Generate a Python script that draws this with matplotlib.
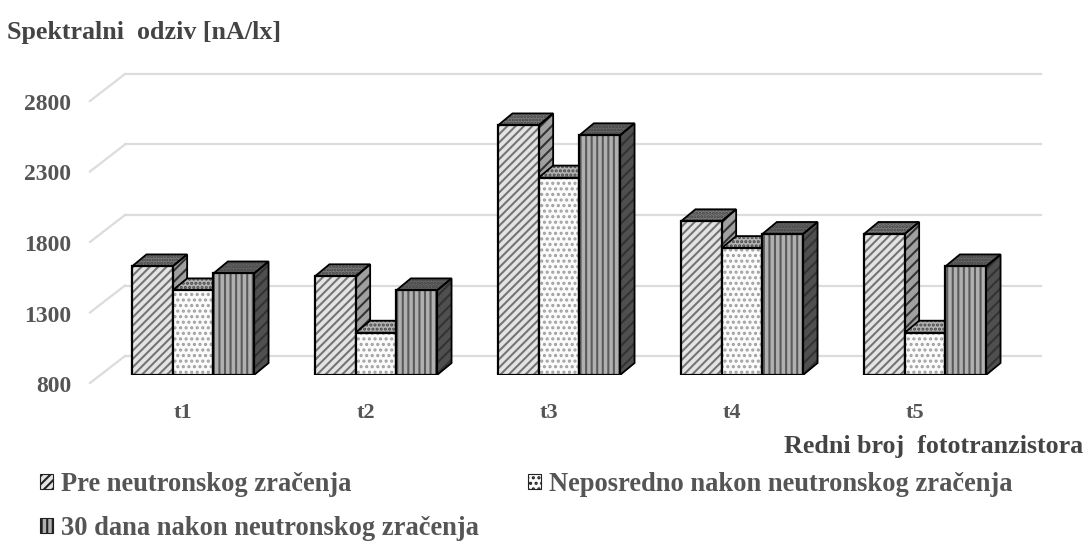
import matplotlib
matplotlib.use("Agg")
import matplotlib.pyplot as plt
from matplotlib.patches import Polygon, Patch
from matplotlib.transforms import blended_transform_factory

plt.rcParams['font.family'] = ['Liberation Serif', 'DejaVu Serif']
plt.rcParams['hatch.linewidth'] = 1.5

# podaci
categories = ["t1", "t2", "t3", "t4", "t5"]
series_names = ["Pre neutronskog zračenja",
                "Neposredno nakon neutronskog zračenja",
                "30 dana nakon neutronskog zračenja"]
pre = [1570, 1500, 2570, 1890, 1800]
neposredno = [1400, 1100, 2200, 1700, 1100]
posle_30 = [1520, 1400, 2500, 1800, 1570]
y_ticks = [800, 1300, 1800, 2300, 2800]

W, H = 1087, 541
fig = plt.figure(figsize=(W / 100, H / 100), dpi=100)

# osa: 800 je na y=375px, a 2800 na y=93px; t1 je na x=193px, korak 183px
left, right, top, bottom = 100, 1045, 60, 375
ax = fig.add_axes([left / W, 1 - bottom / H, (right - left) / W, (bottom - top) / H])
px_x = 183.0
px_y = 70.5 / 500
ax.set_xlim((left - 193) / px_x, (right - 193) / px_x)
ax.set_ylim(800, 800 + (bottom - top) / px_y)
ax.axis("off")

bar_w = 40.7 / px_x
# 3D pomak
dx = 14.5 / px_x
dy = 12 / px_y
wall_dy = 19 / px_y
x_wall = (125 - 193) / px_x
x_floor = (90 - 193) / px_x
x_max = (1041 - 193) / px_x

grid_c = "#dcdcdc"
for t in y_ticks:
    back = t + wall_dy
    ax.plot([x_wall, x_max], [back, back], color=grid_c, lw=1.6, zorder=1, clip_on=False)
    ax.plot([x_floor, x_wall], [back - 27 / px_y, back], color=grid_c, lw=1.6, zorder=1, clip_on=False)

styles = [
    {"face": "#e4e4e4", "hatch": "////", "hc": "#757575",
     "side": "#a0a0a0", "side_hatch": "///", "top": "#7c7c7c", "top_hatch": "....."},
    {"face": "#fbfbfb", "hatch": "...", "hc": "#a0a0a0",
     "side": "#cfcfcf", "side_hatch": "...", "top": "#b4b4b4", "top_hatch": "...."},
    {"face": "#b0b0b0", "hatch": "|||", "hc": "#5a5a5a",
     "side": "#4f4f4f", "side_hatch": "///", "top": "#666666", "top_hatch": "....."},
]
all_values = [pre, neposredno, posle_30]

z = 3
for i in range(len(categories)):
    for j in range(3):
        v = all_values[j][i]
        st = styles[j]
        x0 = i - 1.5 * bar_w + j * bar_w
        x1 = x0 + bar_w
        side_pts = [(x1, 800), (x1 + dx, 800 + dy), (x1 + dx, v + dy), (x1, v)]
        top_pts = [(x0, v), (x0 + dx, v + dy), (x1 + dx, v + dy), (x1, v)]
        ax.add_patch(Polygon(side_pts, facecolor=st["side"], edgecolor="#333333",
                             hatch=st["side_hatch"], lw=0, zorder=z))
        ax.add_patch(Polygon(side_pts, fill=False, edgecolor="black", lw=1.3, zorder=z + 0.1))
        ax.add_patch(Polygon(top_pts, facecolor=st["top"], edgecolor="#444444",
                             hatch=st["top_hatch"], lw=0, zorder=z))
        ax.add_patch(Polygon(top_pts, fill=False, edgecolor="black", lw=1.3, zorder=z + 0.1))
        ax.bar(x0 + bar_w / 2, v - 800, bar_w, bottom=800, color=st["face"], edgecolor=st["hc"],
               hatch=st["hatch"], lw=0, zorder=z + 0.2)
        ax.bar(x0 + bar_w / 2, v - 800, bar_w, bottom=800, fill=False, edgecolor="black",
               lw=1.6, zorder=z + 0.3)
        z += 1

txt = "#555555"
# oznake y ose i kategorija
trans = blended_transform_factory(fig.transFigure, ax.transData)
for t in y_ticks:
    ax.text(71 / W, t - 11.5 / px_y, str(t), transform=trans, ha="right", va="center",
            fontsize=17, fontweight="bold", color=txt, clip_on=False)
for i, c in enumerate(categories):
    ax.text(i - 10 / px_x, 800 - 38 / px_y, c, ha="center", va="center", fontsize=16,
            fontweight="bold", color=txt, clip_on=False)

fig.text(7 / W, 1 - 32 / H, "Spektralni  odziv [nA/lx]", ha="left", va="center",
         fontsize=18.7, fontweight="bold", color="#444444")
fig.text(1083 / W, 1 - 447 / H, "Redni broj  fototranzistora", ha="right", va="center",
         fontsize=18.7, fontweight="bold", color="#444444")

# legenda se puni po kolonama: Pre, 30 dana | Neposredno
order = [0, 2, 1]
handles = [Patch(facecolor=styles[k]["face"], edgecolor="#222222", hatch=styles[k]["hatch"], lw=0.8) for k in order]
labels = [series_names[k] for k in order]
leg = fig.legend(handles, labels, ncol=2, frameon=False, loc="upper left",
                 bbox_to_anchor=(40 / W, 1 - 472 / H), borderaxespad=0, borderpad=0,
                 handlelength=0.5, handleheight=0.5, handletextpad=0.3,
                 columnspacing=1.85, labelspacing=0.72,
                 prop={"family": "Liberation Serif", "weight": "bold", "size": 19.1})
for t in leg.get_texts():
    t.set_color(txt)

fig.savefig("out.png", dpi=100, facecolor="white")
